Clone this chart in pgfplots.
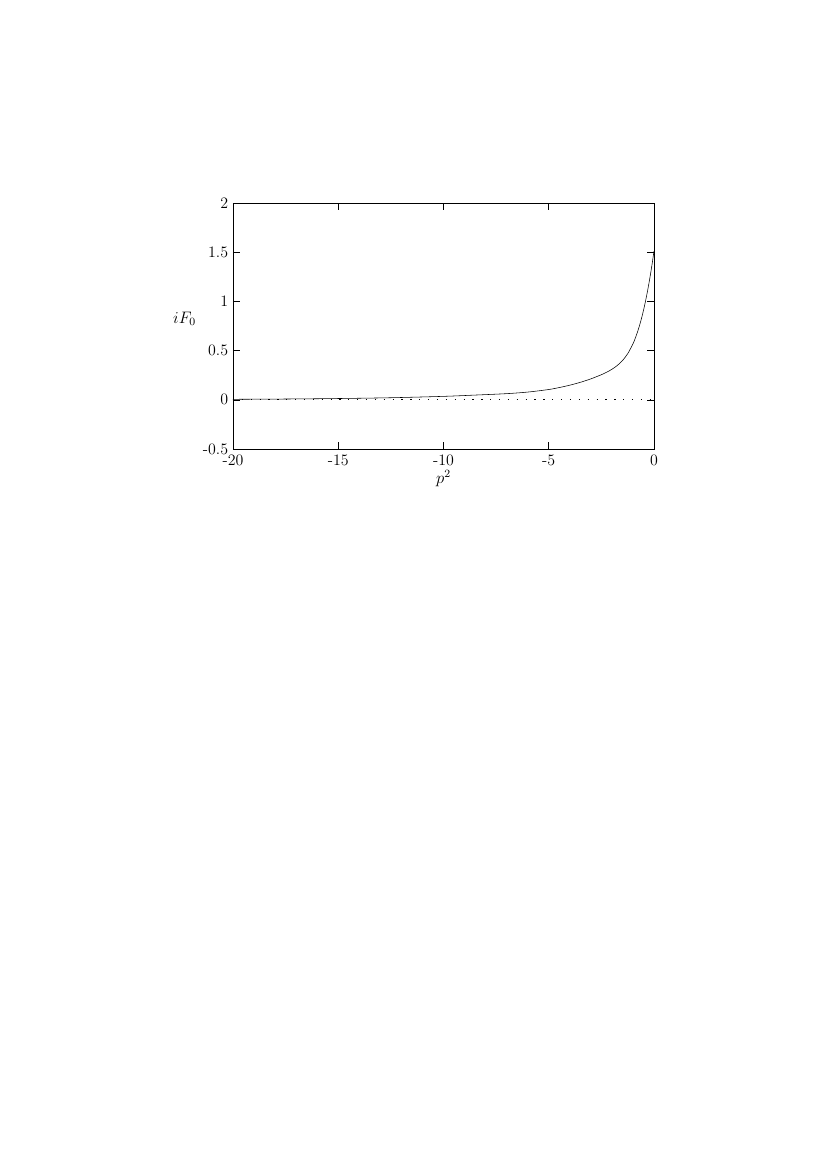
\documentclass[border=0pt]{standalone}
\usepackage{pgfplots}
\pgfplotsset{compat=1.18}
\begin{document}
\begin{tikzpicture}
  % page frame: the plot sits in the upper part of an A4-like sheet
  \useasboundingbox (-5.91cm,-18.29cm) rectangle (15.09cm,11.39cm);
  \begin{axis}[
    scale only axis,
    width=10.68cm, height=6.24cm,
    at={(0,0)}, anchor=south west,
    xmin=-20, xmax=0,
    ymin=-0.5, ymax=2,
    xtick={-20,-15,-10,-5,0},
    xticklabels={-20,-15,-10,-5,0},
    ytick={-0.5,0,0.5,1,1.5,2},
    yticklabels={-0.5,0,0.5,1,1.5,2},
    tick align=inside,
    major tick length=5pt,
    tick style={black, thin},
    axis line style={thin},
    tick label style={font=\fontsize{11.5}{13}\selectfont},
    label style={font=\fontsize{11.5}{13}\selectfont},
    xticklabel style={yshift=-1pt},
    xlabel={$p^2$},
    ylabel={$iF_0$},
    ylabel style={rotate=-90, at={(axis description cs:-0.115,0.53)}, anchor=center},
    xlabel style={yshift=4pt},
  ]
    \addplot[black, thin, smooth, tension=0.5] coordinates {
      (-20,0.005) (-17.5,0.008) (-15,0.013) (-12.5,0.021) (-10,0.035)
      (-8.5,0.048) (-7,0.0625) (-6,0.0785) (-5,0.1045) (-4.5,0.1245)
      (-4,0.1485) (-3.5,0.1775) (-3,0.2125) (-2.5,0.255) (-2.25,0.28)
      (-2,0.31) (-1.75,0.348) (-1.5,0.398) (-1.25,0.468) (-1,0.568)
      (-0.9,0.62) (-0.8,0.679) (-0.7,0.746) (-0.6,0.822) (-0.5,0.908)
      (-0.4,1.005) (-0.3,1.113) (-0.2,1.233) (-0.1,1.365) (0,1.51)
    };
    \addplot[black, line width=0.6pt, dash pattern=on 0.9pt off 5.5pt] coordinates {
      (-20,0) (0,0)
    };
  \end{axis}
\end{tikzpicture}
\end{document}
